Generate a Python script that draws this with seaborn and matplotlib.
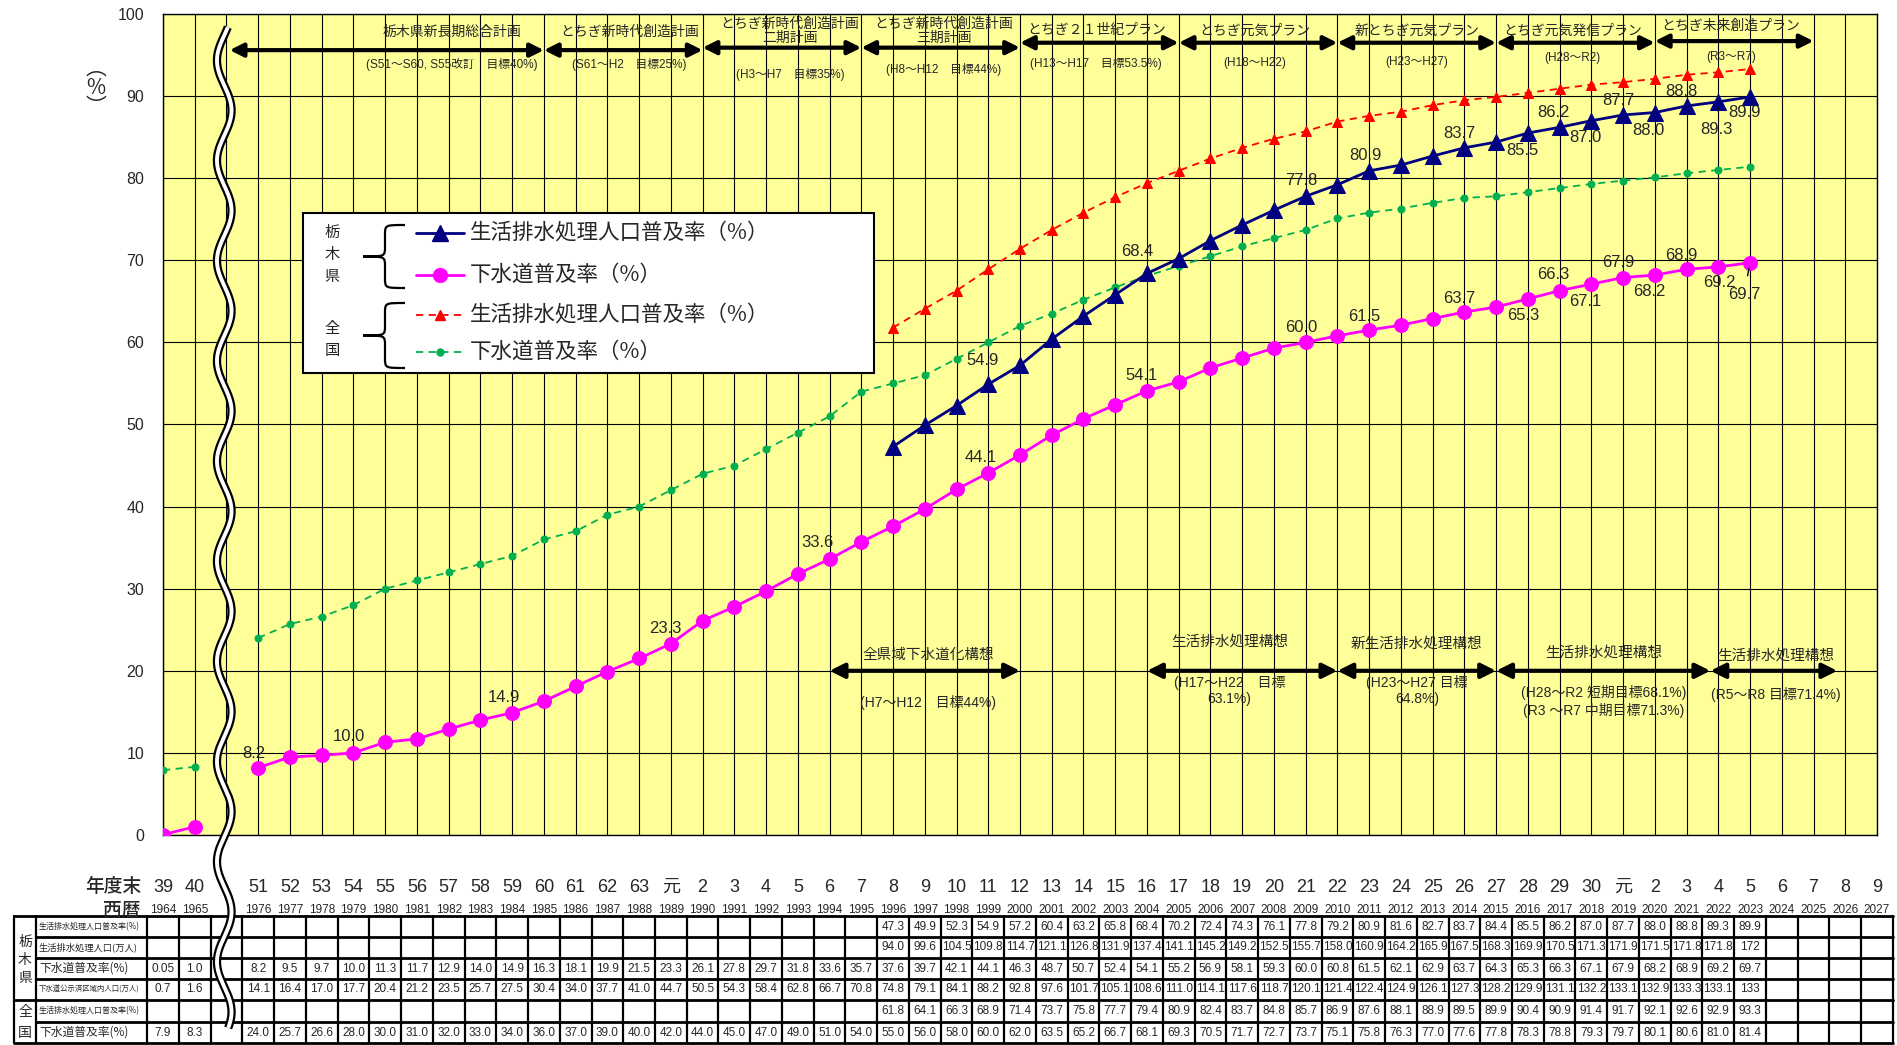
import matplotlib
matplotlib.use("Agg")
import matplotlib.pyplot as plt
import matplotlib.transforms as mtransforms
from matplotlib.patches import Rectangle, PathPatch
from matplotlib.path import Path
from matplotlib.lines import Line2D
import numpy as np
import pandas as pd
import seaborn as sns

# ---------------- data ----------------
years_early = [1964, 1965]
years_main = list(range(1976, 2024))
years_recent = list(range(1996, 2024))

# 栃木県 下水道普及率(%)
tochigi_sewer_early = [0.05, 1.0]
tochigi_sewer = [8.2, 9.5, 9.7, 10.0, 11.3, 11.7, 12.9, 14.0, 14.9, 16.3, 18.1, 19.9, 21.5,
                 23.3, 26.1, 27.8, 29.7, 31.8, 33.6, 35.7, 37.6, 39.7, 42.1, 44.1, 46.3, 48.7,
                 50.7, 52.4, 54.1, 55.2, 56.9, 58.1, 59.3, 60.0, 60.8, 61.5, 62.1, 62.9, 63.7,
                 64.3, 65.3, 66.3, 67.1, 67.9, 68.2, 68.9, 69.2, 69.7]
# 栃木県 下水道公示済区域内人口(万人)
tochigi_sewer_pop_early = [0.7, 1.6]
tochigi_sewer_pop = [14.1, 16.4, 17.0, 17.7, 20.4, 21.2, 23.5, 25.7, 27.5, 30.4, 34.0, 37.7, 41.0,
                     44.7, 50.5, 54.3, 58.4, 62.8, 66.7, 70.8, 74.8, 79.1, 84.1, 88.2, 92.8, 97.6,
                     101.7, 105.1, 108.6, 111.0, 114.1, 117.6, 118.7, 120.1, 121.4, 122.4, 124.9,
                     126.1, 127.3, 128.2, 129.9, 131.1, 132.2, 133.1, 132.9, 133.3, 133.1, 133]
# 栃木県 生活排水処理人口普及率(%)
tochigi_treat = [47.3, 49.9, 52.3, 54.9, 57.2, 60.4, 63.2, 65.8, 68.4, 70.2, 72.4, 74.3, 76.1,
                 77.8, 79.2, 80.9, 81.6, 82.7, 83.7, 84.4, 85.5, 86.2, 87.0, 87.7, 88.0, 88.8,
                 89.3, 89.9]
# 栃木県 生活排水処理人口(万人)
tochigi_treat_pop = [94.0, 99.6, 104.5, 109.8, 114.7, 121.1, 126.8, 131.9, 137.4, 141.1, 145.2,
                     149.2, 152.5, 155.7, 158.0, 160.9, 164.2, 165.9, 167.5, 168.3, 169.9, 170.5,
                     171.3, 171.9, 171.5, 171.8, 171.8, 172]
# 全国 生活排水処理人口普及率(%)
national_treat = [61.8, 64.1, 66.3, 68.9, 71.4, 73.7, 75.8, 77.7, 79.4, 80.9, 82.4, 83.7, 84.8,
                  85.7, 86.9, 87.6, 88.1, 88.9, 89.5, 89.9, 90.4, 90.9, 91.4, 91.7, 92.1, 92.6,
                  92.9, 93.3]
# 全国 下水道普及率(%)
national_sewer_early = [7.9, 8.3]
national_sewer = [24.0, 25.7, 26.6, 28.0, 30.0, 31.0, 32.0, 33.0, 34.0, 36.0, 37.0, 39.0, 40.0,
                  42.0, 44.0, 45.0, 47.0, 49.0, 51.0, 54.0, 55.0, 56.0, 58.0, 60.0, 62.0, 63.5,
                  65.2, 66.7, 68.1, 69.3, 70.5, 71.7, 72.7, 73.7, 75.1, 75.8, 76.3, 77.0, 77.6,
                  77.8, 78.3, 78.8, 79.3, 79.7, 80.1, 80.6, 81.0, 81.4]

era_labels = (["39", "40", ""] + [str(n) for n in range(51, 64)] + ["元"]
              + [str(n) for n in range(2, 31)] + ["元"] + [str(n) for n in range(2, 10)])
west_labels = ["1964", "1965", ""] + [str(y) for y in range(1976, 2028)]

# labelled points: (year, dx px, dy px)
pink_labels = [(1976, -4, 14), (1979, -5, 16), (1984, -8, 15), (1989, -6, 15), (1994, -12, 17),
               (1999, -8, 15), (2004, -5, 15), (2009, -4, 15), (2011, -5, 14), (2014, -5, 14),
               (2016, -5, -17), (2017, -6, 16), (2018, -6, -17), (2019, -5, 15), (2020, -6, -16),
               (2021, -5, 14), (2022, 1, -16), (2023, -6, -32)]
navy_labels = [(1999, -6, 24), (2004, -10, 22), (2009, -4, 16), (2011, -4, 15), (2014, -5, 14),
               (2016, -5, -17), (2017, -6, 15), (2018, -6, -17), (2019, -5, 14), (2020, -6, -18),
               (2021, -5, 14), (2022, -2, -28), (2023, -6, -16)]

top_plans = [
    ("栃木県新長期総合計画", "(S51～S60, S55改訂　目標40%)", 2.1, 12, 9.1, 97.8, 93.8, 95.6),
    ("とちぎ新時代創造計画", "(S61～H2　目標25%)", 12, 17, 14.7, 97.8, 93.8, 95.6),
    ("とちぎ新時代創造計画\n二期計画", "(H3～H7　目標35%)", 17, 22, 19.75, 97.9, 92.6, 95.9),
    ("とちぎ新時代創造計画\n三期計画", "(H8～H12　目標44%)", 22, 27, 24.6, 97.9, 93.2, 95.9),
    ("とちぎ２１世紀プラン", "(H13～H17　目標53.5%)", 27, 32, 29.4, 98.0, 94.0, 96.5),
    ("とちぎ元気プラン", "(H18～H22)", 32, 37, 34.4, 98.0, 94.0, 96.5),
    ("新とちぎ元気プラン", "(H23～H27)", 37, 42, 39.5, 98.0, 94.1, 96.5),
    ("とちぎ元気発信プラン", "(H28～R2)", 42, 47, 44.4, 98.0, 94.6, 96.5),
    ("とちぎ未来創造プラン", "(R3～R7)", 47, 52, 49.4, 98.6, 94.8, 96.7),
]
bottom_plans = [
    ("全県域下水道化構想", "(H7～H12　目標44%)", 21, 27, 24.1, 22.0, 16.1),
    ("生活排水処理構想", "(H17～H22　目標\n63.1%)", 31, 37, 33.6, 23.5, 17.6),
    ("新生活排水処理構想", "(H23～H27 目標\n64.8%)", 37, 42, 39.5, 23.3, 17.6),
    ("生活排水処理構想", "(H28～R2 短期目標68.1%)\n(R3 ～R7 中期目標71.3%)", 42, 48.75, 45.4, 22.2, 16.3),
    ("生活排水処理構想", "(R5～R8 目標71.4%)", 48.75, 52.75, 50.8, 21.9, 17.1),
]

# ---------------- style ----------------
sns.set_style("white")
plt.rcParams["font.family"] = ["Liberation Sans", "Noto Sans CJK JP", "DejaVu Sans"]
NARROW = ["Liberation Sans Narrow", "Liberation Sans", "Noto Sans CJK JP"]
CJK = ["Noto Sans CJK JP", "DejaVu Sans"]

W, H = 1897, 1045
L_PX, R_PX, T_PX, B_PX = 163, 1877, 14, 835
fig = plt.figure(figsize=(W / 100, H / 100), dpi=100)
ax = fig.add_axes([L_PX / W, 1 - B_PX / H, (R_PX - L_PX) / W, (B_PX - T_PX) / H])
ax.set_facecolor("#FFFF99")


def pos(y):
    return y - 1964 if y < 1970 else y - 1973


def fx(px):
    return px / W


def fy(py):
    return 1 - py / H


def dxp(px):
    return (px - L_PX) / ((R_PX - L_PX) / 54)


def frame(years, vals, seg):
    return pd.DataFrame({"pos": [pos(y) for y in years], "value": vals, "seg": seg})


# ---------------- series ----------------
d_ts = pd.concat([frame(years_early, tochigi_sewer_early, 0), frame(years_main, tochigi_sewer, 1)])
d_ns = pd.concat([frame(years_early, national_sewer_early, 0), frame(years_main, national_sewer, 1)])
d_tt = frame(years_recent, tochigi_treat, 0)
d_nt = frame(years_recent, national_treat, 0)

sns.lineplot(data=d_ns, x="pos", y="value", units="seg", estimator=None, sort=False, ax=ax,
             color="#00B050", linestyle=(0, (4, 3)), linewidth=1.3, marker="o", markersize=5,
             markeredgecolor="#00B050", zorder=5)
sns.lineplot(data=d_nt, x="pos", y="value", units="seg", estimator=None, sort=False, ax=ax,
             color="#FF0000", linestyle=(0, (4, 3)), linewidth=1.3, marker="^", markersize=7,
             markeredgecolor="#FF0000", zorder=5)
sns.lineplot(data=d_ts, x="pos", y="value", units="seg", estimator=None, sort=False, ax=ax,
             color="#FF00FF", linewidth=2, marker="o", markersize=10,
             markeredgecolor="#FF00FF", zorder=6)
sns.lineplot(data=d_tt, x="pos", y="value", units="seg", estimator=None, sort=False, ax=ax,
             color="#000080", linewidth=2, marker="^", markersize=11,
             markeredgecolor="#000080", zorder=7)

ax.set_xlim(0, 54)
ax.set_ylim(0, 100)
ax.set_xlabel("")
ax.set_ylabel("")
ax.set_xticks(range(55), labels=[""] * 55)
ax.set_yticks(range(0, 101, 10))
ax.tick_params(axis="both", length=0)
ax.tick_params(axis="y", pad=13.5, labelsize=11.5)
ax.grid(True, color="black", linewidth=0.8)
ax.set_axisbelow(True)
for s in ax.spines.values():
    s.set_color("black")
    s.set_linewidth(1.0)

# data labels
ts_map = dict(zip(years_main, tochigi_sewer))
tt_map = dict(zip(years_recent, tochigi_treat))
for yr, ddx, ddy in pink_labels:
    v = ts_map[yr]
    kw = {}
    if yr == 2023:
        kw["arrowprops"] = dict(arrowstyle="-", color="black", lw=1, shrinkA=6, shrinkB=4)
    ax.annotate(f"{v:.1f}", (pos(yr), v), xytext=(ddx, ddy), textcoords="offset pixels",
                ha="center", va="center", fontsize=12, zorder=9, **kw)
for yr, ddx, ddy in navy_labels:
    v = tt_map[yr]
    kw = {}
    if yr == 2022:
        kw["arrowprops"] = dict(arrowstyle="-", color="black", lw=1, shrinkA=6, shrinkB=4)
    ax.annotate(f"{v:.1f}", (pos(yr), v), xytext=(ddx, ddy), textcoords="offset pixels",
                ha="center", va="center", fontsize=12, zorder=9, **kw)

# plan arrows (top)
for name, sub, x0, x1, xt, yn, ys, ya in top_plans:
    ax.annotate("", xy=(x1, ya), xytext=(x0, ya),
                arrowprops=dict(arrowstyle="<|-|>", color="black", lw=3, mutation_scale=20,
                                shrinkA=0, shrinkB=0), zorder=8)
    ax.text(xt, yn, name, ha="center", va="center", fontsize=10, family=CJK,
            linespacing=1.0, zorder=8)
    ax.text(xt, ys, sub, ha="center", va="center", fontsize=8.5, zorder=8)

# plan arrows (bottom)
for name, sub, x0, x1, xt, yn, ys in bottom_plans:
    ax.annotate("", xy=(x1, 20.0), xytext=(x0, 20.0),
                arrowprops=dict(arrowstyle="<|-|>", color="black", lw=3, mutation_scale=22,
                                shrinkA=0, shrinkB=0), zorder=8)
    ax.text(xt, yn, name, ha="center", va="center", fontsize=10.5, family=CJK, zorder=8)
    ax.text(xt, ys, sub, ha="center", va="center", fontsize=10, linespacing=1.25,
            multialignment="center", zorder=8)

tb = mtransforms.blended_transform_factory(ax.transData, fig.transFigure)

# x labels
for i, (e, w) in enumerate(zip(era_labels, west_labels)):
    ax.text(i, fy(887), e, transform=tb, ha="center", va="center", fontsize=13, family=NARROW)
    ax.text(i, fy(910), w, transform=tb, ha="center", va="center", fontsize=8.5, family=NARROW)
fig.text(fx(141), fy(887), "年度末", ha="right", va="center", fontsize=13.5, family=CJK,
         fontweight="medium")
fig.text(fx(141), fy(910), "西暦", ha="right", va="center", fontsize=13.5, family=CJK,
         fontweight="medium")
fig.text(fx(96), fy(88), "︵\n%\n︶", ha="center", va="center", fontsize=15,
         linespacing=0.85, family=CJK)

# ---------------- table ----------------
row_edges = [916, 937, 958, 979, 1000, 1022, 1043]
x_left, x_grp = dxp(14), dxp(36)
for i, yy in enumerate(row_edges):
    x0 = x_left if i in (0, 4, 6) else x_grp
    ax.plot([x0, 54.5], [fy(yy)] * 2, transform=tb, color="black", lw=2, clip_on=False, zorder=3)
for xx in [x_left, x_grp] + [k - 0.5 for k in range(56)]:
    ax.plot([xx, xx], [fy(916), fy(1043)], transform=tb, color="black", lw=1.6,
            clip_on=False, zorder=3)

row_names = [("生活排水処理人口普及率(%)", 5.8), ("生活排水処理人口(万人)", 6.7),
             ("下水道普及率(%)", 8.5), ("下水道公示済区域内人口(万人)", 5.3),
             ("生活排水処理人口普及率(%)", 5.8), ("下水道普及率(%)", 8.5)]
row_mid = [(row_edges[i] + row_edges[i + 1]) / 2 for i in range(6)]
for (nm, fs), ym in zip(row_names, row_mid):
    ax.text(dxp(39), fy(ym), nm, transform=tb, ha="left", va="center", fontsize=fs, family=CJK)
for ch, yy in zip("栃木県", [942, 960, 978]):
    fig.text(fx(25), fy(yy), ch, ha="center", va="center", fontsize=10, family=CJK)
for ch, yy in zip("全国", [1012, 1033]):
    fig.text(fx(25), fy(yy), ch, ha="center", va="center", fontsize=10, family=CJK)


def fmt(v):
    if isinstance(v, int):
        return str(v)
    return f"{v:.2f}" if v < 0.1 else f"{v:.1f}"


table_rows = [
    (years_recent, tochigi_treat),
    (years_recent, tochigi_treat_pop),
    (years_early + years_main, tochigi_sewer_early + tochigi_sewer),
    (years_early + years_main, tochigi_sewer_pop_early + tochigi_sewer_pop),
    (years_recent, national_treat),
    (years_early + years_main, national_sewer_early + national_sewer),
]
for (yrs, vals), ym in zip(table_rows, row_mid):
    for yr, v in zip(yrs, vals):
        ax.text(pos(yr), fy(ym), fmt(v), transform=tb, ha="center", va="center",
                fontsize=8.5, family=NARROW)

# ---------------- break mark ----------------
wy = np.linspace(98.4, -23.5, 300)
wx = 1.93 + 0.23 * np.sin(2 * np.pi * (wy - 12.0) / 12.2)
ax.plot(wx, wy, color="black", lw=6, clip_on=False, zorder=20, solid_capstyle="butt")
ax.plot(wx, wy, color="white", lw=2.8, clip_on=False, zorder=21, solid_capstyle="butt")

# ---------------- legend ----------------
fig.add_artist(Rectangle((fx(303), fy(373)), fx(874) - fx(303), fy(213) - fy(373),
                         transform=fig.transFigure, facecolor="white", edgecolor="black",
                         lw=1.5, zorder=10))
leg_items = [
    ("#000080", "-", "^", 11, 2, "生活排水処理人口普及率（%）", 233),
    ("#FF00FF", "-", "o", 10, 2, "下水道普及率（%）", 275),
    ("#FF0000", (0, (4, 3)), "^", 7, 1.3, "生活排水処理人口普及率（%）", 315),
    ("#00B050", (0, (4, 3)), "o", 5, 1.3, "下水道普及率（%）", 352),
]
for col, ls, mk, ms, lw, txt, yy in leg_items:
    fig.add_artist(Line2D([fx(416), fx(464)], [fy(yy)] * 2, transform=fig.transFigure,
                          color=col, linestyle=ls, lw=lw, zorder=11))
    fig.add_artist(Line2D([fx(440)], [fy(yy)], transform=fig.transFigure, color=col,
                          marker=mk, markersize=ms, markeredgecolor=col, zorder=12))
    fig.text(fx(470), fy(yy), txt, ha="left", va="center", fontsize=15.5, family=CJK, zorder=12)

for ch, yy in zip("栃木県", [232, 255, 277]):
    fig.text(fx(332), fy(yy), ch, ha="center", va="center", fontsize=11, family=CJK, zorder=12)
for ch, yy in zip("全国", [328, 350]):
    fig.text(fx(332), fy(yy), ch, ha="center", va="center", fontsize=11, family=CJK, zorder=12)


def brace(top, bottom, xt=405, xs=385, xc=363, r=10):
    mid = (top + bottom) / 2
    pts = [(xt, top), (xs, top), (xs, top), (xs, top + r),
           (xs, mid - r), (xs, mid), (xs, mid), (xc, mid),
           (xs, mid), (xs, mid), (xs, mid + r),
           (xs, bottom - r), (xs, bottom), (xs, bottom), (xt, bottom)]
    codes = [Path.MOVETO] + [Path.CURVE4] * 3 + [Path.LINETO] + [Path.CURVE4] * 6 \
        + [Path.LINETO] + [Path.CURVE4] * 3
    verts = [(fx(a), fy(b)) for a, b in pts]
    fig.add_artist(PathPatch(Path(verts, codes), transform=fig.transFigure, facecolor="none",
                             edgecolor="black", lw=1.6, zorder=12))


brace(225, 288)
brace(303, 368)

fig.savefig("out.png", dpi=100)
